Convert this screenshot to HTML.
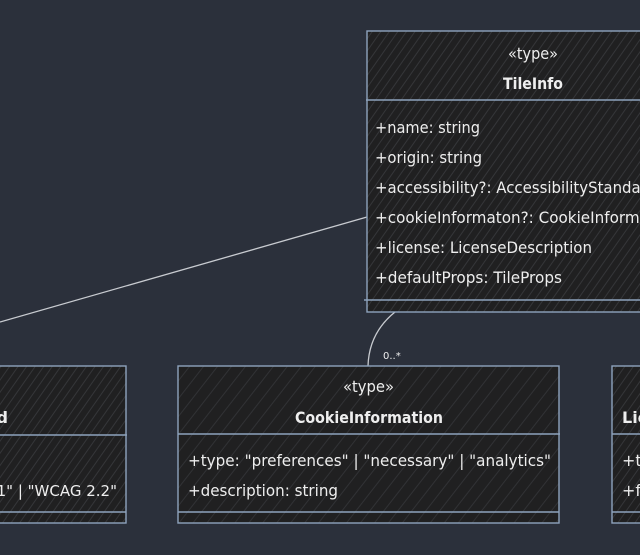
<!DOCTYPE html>
<html><head><meta charset="utf-8"><style>
html,body{margin:0;padding:0;background:#2b303b;}
svg{display:block;}
text{font-family:"DejaVu Sans","Liberation Sans",sans-serif;fill:#eeeeee;}
</style></head><body>
<svg width="640" height="555" viewBox="0 0 640 555" xmlns="http://www.w3.org/2000/svg">
<defs>
<pattern id="h" width="7" height="7" patternUnits="userSpaceOnUse" patternTransform="rotate(35)">
<rect width="7" height="7" fill="#202021"/>
<line x1="1" y1="0" x2="1" y2="7" stroke="#353639" stroke-width="1"/>
</pattern>
<pattern id="h2" width="11" height="11" patternUnits="userSpaceOnUse" patternTransform="rotate(38)">
<rect width="11" height="11" fill="#202021"/>
<line x1="1" y1="0" x2="1" y2="11" stroke="#313235" stroke-width="1"/>
</pattern>
</defs>
<rect width="640" height="555" fill="#2b303b"/>

<!-- connector line -->
<line x1="0" y1="322" x2="367" y2="217" stroke="#c8cbd0" stroke-width="1.3"/>
<path d="M395,312 Q369,333 368,366" fill="none" stroke="#c8cbd0" stroke-width="1.3"/>
<text x="383" y="359" style="font-size:10px" fill="#d0d0d0">0..*</text>

<!-- TileInfo -->
<rect x="367" y="31" width="290" height="281" fill="url(#h)" stroke="#8ea3bd" stroke-width="1.4"/>
<line x1="366" y1="100" x2="640" y2="100" stroke="#8ea3bd" stroke-width="1.4"/>
<line x1="364" y1="300" x2="640" y2="300" stroke="#8ea3bd" stroke-width="1.4"/>
<text x="533" y="59" text-anchor="middle" style="font-size:16px" textLength="50" lengthAdjust="spacingAndGlyphs">«type»</text>
<text x="533" y="89" text-anchor="middle" style="font-size:16px;font-weight:bold" textLength="60" lengthAdjust="spacingAndGlyphs">TileInfo</text>
<text x="375" y="133" style="font-size:16px" textLength="105" lengthAdjust="spacingAndGlyphs">+name: string</text>
<text x="375" y="163" style="font-size:16px" textLength="107" lengthAdjust="spacingAndGlyphs">+origin: string</text>
<text x="375" y="193" style="font-size:16px" textLength="281" lengthAdjust="spacingAndGlyphs">+accessibility?: AccessibilityStandard</text>
<text x="375" y="223" style="font-size:16px" textLength="303" lengthAdjust="spacingAndGlyphs">+cookieInformaton?: CookieInformation</text>
<text x="375" y="253" style="font-size:16px" textLength="217" lengthAdjust="spacingAndGlyphs">+license: LicenseDescription</text>
<text x="375" y="283" style="font-size:16px" textLength="187" lengthAdjust="spacingAndGlyphs">+defaultProps: TileProps</text>

<!-- Left box (AccessibilityStandard) -->
<rect x="-40" y="366" width="166" height="157" fill="url(#h)" stroke="#8ea3bd" stroke-width="1.4"/>
<line x1="0" y1="435" x2="127" y2="435" stroke="#8ea3bd" stroke-width="1.4"/>
<line x1="0" y1="512" x2="126" y2="512" stroke="#8ea3bd" stroke-width="1.4"/>
<text x="8" y="423" text-anchor="end" style="font-size:16px;font-weight:bold">AccessibilityStandard</text>
<text x="117" y="496" text-anchor="end" style="font-size:15px">+level: "WCAG 2.0" | "WCAG 2.1" | "WCAG 2.2"</text>

<!-- CookieInformation -->
<rect x="178" y="366" width="381" height="157" fill="url(#h2)" stroke="#8ea3bd" stroke-width="1.4"/>
<line x1="178" y1="434" x2="560" y2="434" stroke="#8ea3bd" stroke-width="1.4"/>
<line x1="178" y1="512" x2="559" y2="512" stroke="#8ea3bd" stroke-width="1.4"/>
<text x="368.5" y="392" text-anchor="middle" style="font-size:16px" textLength="51" lengthAdjust="spacingAndGlyphs">«type»</text>
<text x="369" y="423" text-anchor="middle" style="font-size:16px;font-weight:bold" textLength="148" lengthAdjust="spacingAndGlyphs">CookieInformation</text>
<text x="188" y="466" style="font-size:16px" textLength="363" lengthAdjust="spacingAndGlyphs">+type: "preferences" | "necessary" | "analytics"</text>
<text x="188" y="496" style="font-size:16px" textLength="150" lengthAdjust="spacingAndGlyphs">+description: string</text>

<!-- Right box (LicenseDescription) -->
<rect x="612" y="366" width="200" height="157" fill="url(#h)" stroke="#8ea3bd" stroke-width="1.4"/>
<line x1="612" y1="434" x2="640" y2="434" stroke="#8ea3bd" stroke-width="1.4"/>
<line x1="612" y1="512" x2="640" y2="512" stroke="#8ea3bd" stroke-width="1.4"/>
<text x="622" y="423" style="font-size:16px;font-weight:bold">LicenseDescription</text>
<text x="622" y="466" style="font-size:16px">+type: string</text>
<text x="622" y="496" style="font-size:16px">+fullText: string</text>
</svg>
</body></html>
